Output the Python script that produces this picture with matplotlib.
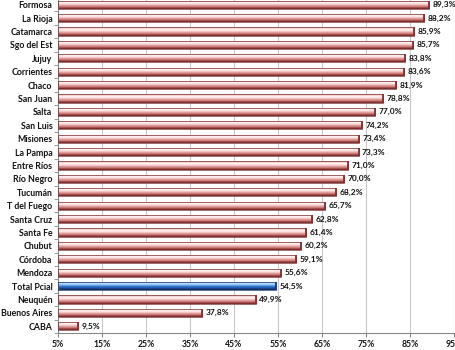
import matplotlib.pyplot as plt
import numpy as np

provincias = ["Formosa", "La Rioja", "Catamarca", "Sgo del Est", "Jujuy", "Corrientes", "Chaco",
              "San Juan", "Salta", "San Luis", "Misiones", "La Pampa", "Entre Ríos", "Río Negro",
              "Tucumán", "T del Fuego", "Santa Cruz", "Santa Fe", "Chubut", "Córdoba", "Mendoza",
              "Total Pcial", "Neuquén", "Buenos Aires", "CABA"]
valores = [89.3, 88.2, 85.9, 85.7, 83.8, 83.6, 81.9, 78.8, 77.0, 74.2, 73.4, 73.3, 71.0, 70.0,
           68.2, 65.7, 62.8, 61.4, 60.2, 59.1, 55.6, 54.5, 49.9, 37.8, 9.5]
x_ticks = [5, 15, 25, 35, 45, 55, 65, 75, 85, 95]
total_label = "Total Pcial"

plt.rcParams["font.family"] = ["Lato", "DejaVu Sans"]

base = 5
fig = plt.figure(figsize=(4.55, 3.5), dpi=100)
fig.patch.set_facecolor("white")
ax = fig.add_axes([58 / 455, 17 / 350, 396 / 455, 335 / 350])

y = np.arange(len(provincias))[::-1]
h = 0.62

# vertical gradients for the bars: dark bottom, light band near the top
pink = np.array([[0.50, 0.18, 0.18], [0.78, 0.45, 0.45], [0.90, 0.64, 0.64],
                 [0.99, 0.88, 0.88], [1.00, 0.95, 0.95], [0.93, 0.72, 0.72]])
blue = np.array([[0.08, 0.18, 0.40], [0.14, 0.34, 0.66], [0.22, 0.48, 0.82],
                 [0.55, 0.76, 0.96], [0.75, 0.88, 1.00], [0.35, 0.58, 0.86]])

for yi, val, name in zip(y, valores, provincias):
    grad = blue if name == total_label else pink
    edge = "#1d3a6e" if name == total_label else "#7a3333"
    bar = ax.barh(yi, val - base, left=base, height=h, color="none",
                  edgecolor=edge, linewidth=0.5, zorder=3)[0]
    img = ax.imshow(grad.reshape(-1, 1, 3), aspect="auto", origin="lower",
                    extent=[base, val, yi - h / 2, yi + h / 2], zorder=2,
                    interpolation="bilinear")
    img.set_clip_path(bar)
    # darker right end of each bar
    ax.plot([val, val], [yi - h / 2, yi + h / 2], color=edge, linewidth=1.3, zorder=3,
            solid_capstyle="butt")
    ax.text(val + 0.8, yi, f"{val:.1f}%".replace(".", ","), va="center", ha="left",
            fontsize=6.0, fontweight="bold", color="#111111", zorder=4)

ax.set_xlim(base, 95)
ax.set_ylim(-0.5, len(provincias) - 0.5)
ax.set_xticks(x_ticks)
ax.set_xticklabels([f"{t}%" for t in x_ticks], fontsize=6.2, fontweight="bold", color="#111111")
ax.set_yticks(y)
ax.set_yticklabels(provincias, fontsize=6.3, fontweight="bold", color="#111111")
ax.set_yticks(np.arange(len(provincias) + 1) - 0.5, minor=True)
ax.tick_params(axis="y", which="major", length=0, pad=4)
ax.tick_params(axis="y", which="minor", length=3, color="#888888", direction="out")
ax.tick_params(axis="x", length=3, color="#888888", pad=2)

ax.grid(axis="x", color="#c8c8c8", linewidth=0.8, zorder=0)
ax.set_axisbelow(True)
for side in ["top", "right"]:
    ax.spines[side].set_visible(False)
ax.spines["left"].set_color("#888888")
ax.spines["bottom"].set_color("#888888")

plt.savefig("out.png", dpi=100, facecolor="white")
plt.close()
